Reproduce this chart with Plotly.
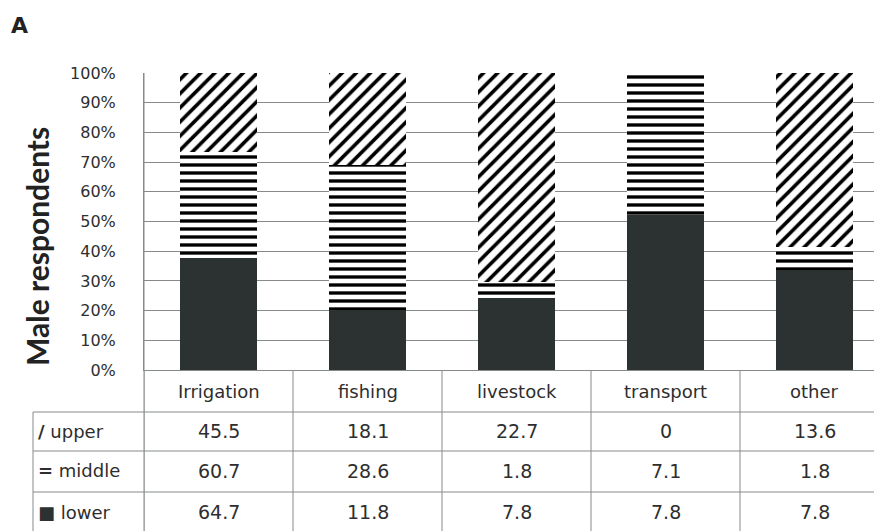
import plotly.graph_objects as go

# ---------------- data ----------------
categories = ["Irrigation", "fishing", "livestock", "transport", "other"]
upper = [45.5, 18.1, 22.7, 0, 13.6]
middle = [60.7, 28.6, 1.8, 7.1, 1.8]
lower = [64.7, 11.8, 7.8, 7.8, 7.8]
series_names = ["upper", "middle", "lower"]
series_symbols = ["<b>/</b>", "<b>=</b>", "<span style='color:#2b3231'>■</span>"]
y_ticks = [0, 0.1, 0.2, 0.3, 0.4, 0.5, 0.6, 0.7, 0.8, 0.9, 1.0]
y_title = "Male respondents"
panel_label = "A"

# ---------------- layout constants ----------------
OFF = 8                       # page body margin in the browser
W, H = 882, 531 - OFF
L, T = 144 - OFF, 73 - OFF
zero_abs = 370                # absolute pixel row of 0 %
plot_h = zero_abs - 73        # 297 px
B = H - T - plot_h
plot_w = W - L
cat_px = 149.0                # px per category
x_lo = -0.5
x_hi = x_lo + plot_w / cat_px

def py(pix):
    """absolute screenshot pixel row -> paper y"""
    return (zero_abs - pix) / plot_h

def px(pix):
    """absolute screenshot pixel column -> paper x"""
    return (pix - 144) / plot_w

TXT = "#2e2e2e"
GRID = "#868b8a"
DARK = "#2b3231"
FONT = "DejaVu Sans"

totals = [u + m + l for u, m, l in zip(upper, middle, lower)]
lower_pct = [v / t for v, t in zip(lower, totals)]
middle_pct = [v / t for v, t in zip(middle, totals)]
upper_pct = [v / t for v, t in zip(upper, totals)]
xs = list(range(len(categories)))

fig = go.Figure()
fig.add_trace(go.Bar(x=xs, y=lower_pct, name="lower", width=0.52,
                     marker=dict(color=DARK, line=dict(width=0))))
fig.add_trace(go.Bar(x=xs, y=middle_pct, name="middle", width=0.52,
                     marker=dict(color="white", line=dict(width=0),
                                 pattern=dict(shape="-", fgcolor="black", bgcolor="white",
                                              fgopacity=1, size=8, solidity=0.42,
                                              fillmode="replace"))))
fig.add_trace(go.Bar(x=xs, y=upper_pct, name="upper", width=0.52,
                     marker=dict(color="white", line=dict(width=0),
                                 pattern=dict(shape="/", fgcolor="black", bgcolor="white",
                                              fgopacity=1, size=10, solidity=0.36,
                                              fillmode="replace"))))

shapes = []
line = dict(color=GRID, width=1)
row_bounds_px = [412, 451, 492]
for rb in row_bounds_px:
    shapes.append(dict(type="line", xref="paper", yref="paper",
                       x0=px(33), x1=1, y0=py(rb), y1=py(rb), line=line))
for i in range(len(categories) + 1):
    shapes.append(dict(type="line", xref="x", yref="paper",
                       x0=i - 0.5, x1=i - 0.5, y0=0, y1=py(540), line=line))
shapes.append(dict(type="line", xref="paper", yref="paper",
                   x0=px(33), x1=px(33), y0=py(412), y1=py(540), line=line))
shapes.append(dict(type="line", xref="paper", yref="paper",
                   x0=0, x1=0, y0=1, y1=py(540), line=line))

annotations = []
for i, c in enumerate(categories):
    annotations.append(dict(x=i, y=py(392), xref="x", yref="paper", text=c,
                            showarrow=False, font=dict(family=FONT, size=18, color=TXT),
                            xanchor="center", yanchor="middle"))
row_centers_px = [431, 471, 512]
for r, vals in enumerate([upper, middle, lower]):
    for i, v in enumerate(vals):
        annotations.append(dict(x=i, y=py(row_centers_px[r]), xref="x", yref="paper",
                                text=f"{v:g}", showarrow=False,
                                font=dict(family=FONT, size=19, color=TXT),
                                xanchor="center", yanchor="middle"))
    annotations.append(dict(x=px(36), y=py(row_centers_px[r]), xref="paper", yref="paper",
                            text=series_symbols[r] + " " + series_names[r], showarrow=False,
                            font=dict(family=FONT, size=18, color=TXT),
                            xanchor="left", yanchor="middle"))
annotations.append(dict(x=px(37), y=py(246), xref="paper", yref="paper", text="<b>" + y_title + "</b>",
                        textangle=-90, showarrow=False,
                        font=dict(family="Lato", size=30, color="#222"),
                        xanchor="center", yanchor="middle"))
annotations.append(dict(x=px(19), y=py(25), xref="paper", yref="paper", text="<b>" + panel_label + "</b>",
                        showarrow=False, font=dict(family=FONT, size=22, color="#222"),
                        xanchor="center", yanchor="middle"))

fig.update_layout(
    barmode="stack",
    width=W, height=H,
    margin=dict(l=L, r=0, t=T, b=B, pad=0, autoexpand=False),
    paper_bgcolor="white", plot_bgcolor="white",
    showlegend=False,
    shapes=shapes,
    annotations=annotations,
    xaxis=dict(range=[x_lo, x_hi], showticklabels=False, showgrid=False, zeroline=False,
               showline=True, linecolor=GRID, linewidth=1, ticks="", automargin=False),
    yaxis=dict(range=[0, 1], tickvals=y_ticks, tickformat=".0%",
               showgrid=True, gridcolor=GRID, gridwidth=1, zeroline=False,
               showline=True, linecolor=GRID, linewidth=1, ticks="",
               ticklabelstandoff=24, automargin=False,
               tickfont=dict(family=FONT, size=16, color=TXT)),
)

fig.write_html("out.html")
